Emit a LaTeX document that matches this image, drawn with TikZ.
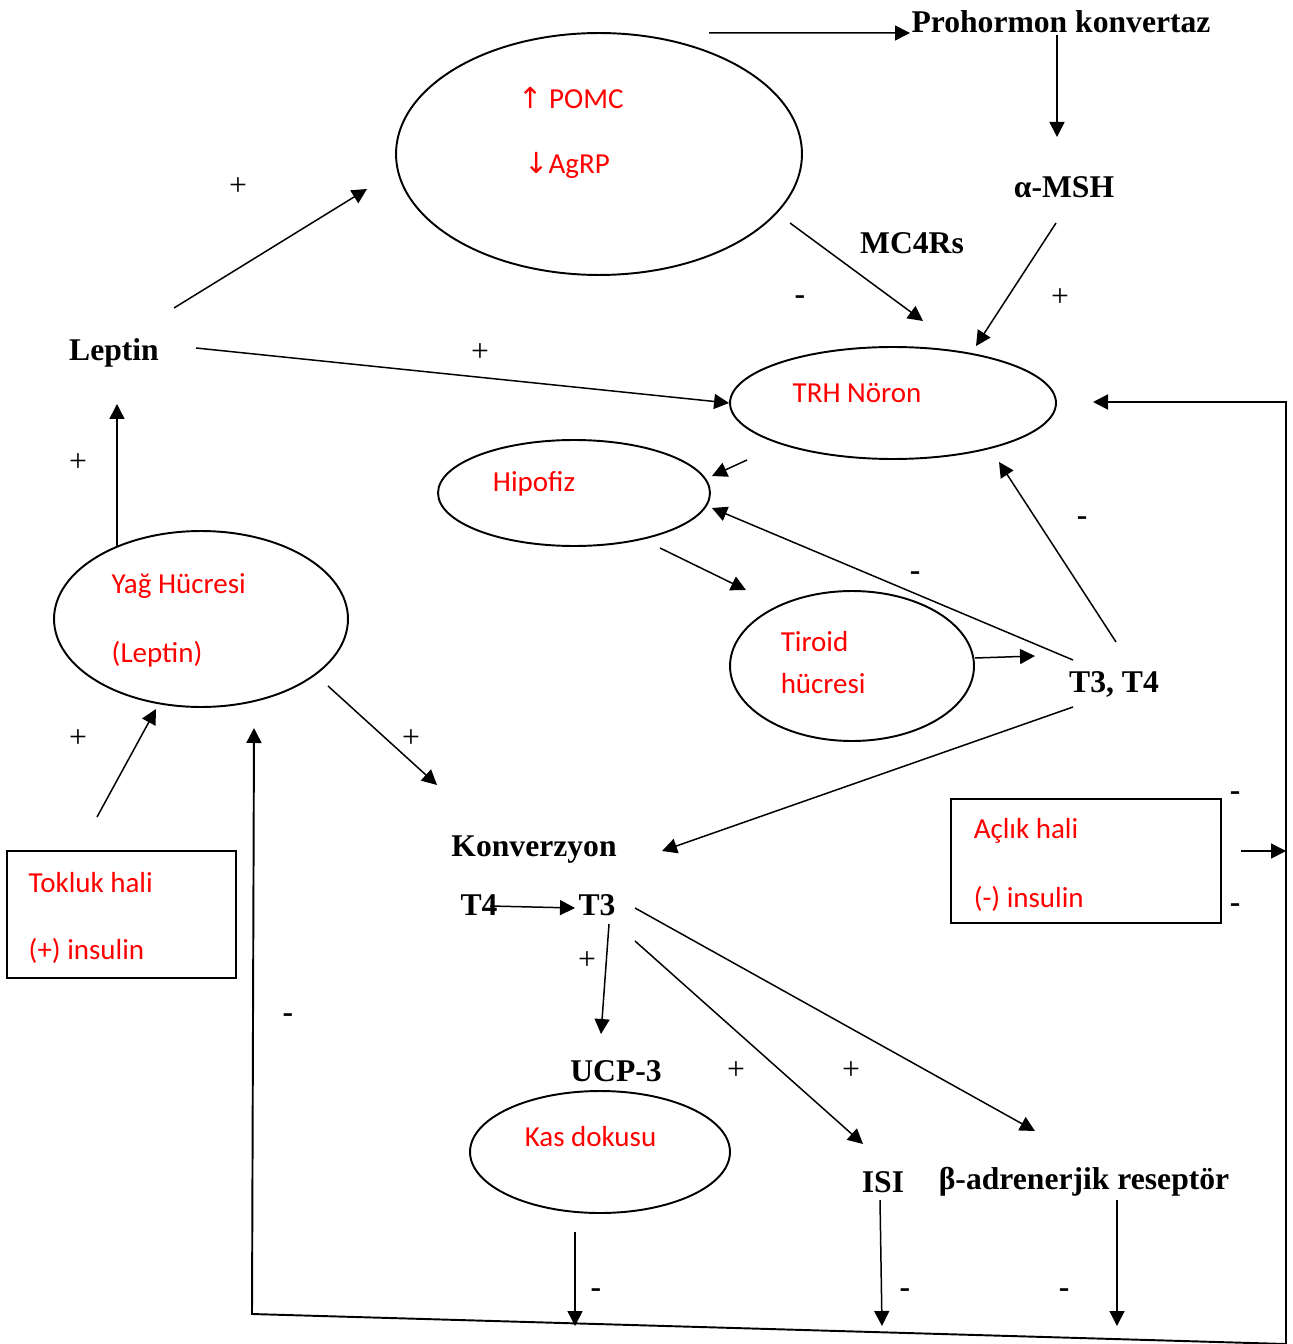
\documentclass[tikz,border=0pt]{standalone}
\usepackage{fontspec}
\setmainfont{Liberation Serif}
\newfontfamily\calibri{Carlito}
\newfontfamily\arrowfont{DejaVu Sans}
\usetikzlibrary{arrows.meta,shapes.geometric,calc}

\begin{document}
\begin{tikzpicture}[x=0.02cm,y=-0.02cm,>={Triangle[length=3.0mm,width=3.0mm]},line width=0.85pt,
  cell/.style={draw,ellipse,inner sep=0pt,line width=1.1pt},
  statebox/.style={draw,rectangle,inner sep=0pt,line width=1.1pt},
  lbl/.style={font=\bfseries\fontsize{18}{20}\selectfont,inner sep=0pt,yshift=-0.06cm},
  rtext/.style={text=red,font=\calibri\fontsize{16.5}{19}\selectfont,inner sep=0pt,yshift=-0.04cm},
  sgn/.style={font=\fontsize{18}{20}\selectfont,inner sep=0pt,yshift=-0.06cm}]
  \useasboundingbox (0,0) rectangle (1292,1344);

  % cells
  \node [cell,minimum width=8.12cm,minimum height=4.84cm] (pomc) at (599,154) {};
  \node [cell,minimum width=6.52cm,minimum height=2.24cm] (trh) at (893,403) {};
  \node [cell,minimum width=5.44cm,minimum height=2.12cm] (hipofiz) at (574,493) {};
  \node [cell,minimum width=4.88cm,minimum height=3.0cm] (tiroid) at (852,666) {};
  \node [cell,minimum width=5.88cm,minimum height=3.52cm] (yag) at (201,619) {};
  \node [cell,minimum width=5.2cm,minimum height=2.44cm] (kas) at (600,1152) {};
  \node [statebox,minimum width=4.58cm,minimum height=2.54cm] (tokluk) at (121.5,914.5) {};
  \node [statebox,minimum width=5.4cm,minimum height=2.48cm] (aclik) at (1086,861) {};

  % red texts
  \node [rtext] (pomcT) at (571,96) {{\arrowfont ↑} POMC};
  \node [rtext] (agrpT) at (567,163) {{\arrowfont ↓}AgRP};
  \node [rtext] (trhT) at (857,391) {TRH Nöron};
  \node [rtext] (hipT) at (534,482) {Hipofiz};
  \node [rtext,anchor=west] (tirT1) at (780,640) {Tiroid};
  \node [rtext,anchor=west] (tirT2) at (780,682) {hücresi};
  \node [rtext,anchor=west] (yagT1) at (111,584) {Yağ Hücresi};
  \node [rtext,anchor=west] (yagT2) at (111,652) {(Leptin)};
  \node [rtext,anchor=west] (kasT) at (524,1135) {Kas dokusu};
  \node [rtext,anchor=west] (tokT1) at (28,881) {Tokluk hali};
  \node [rtext,anchor=west] (tokT2) at (28,949) {(+) insulin};
  \node [rtext,anchor=west] (acT1) at (973,829) {Açlık hali};
  \node [rtext,anchor=west] (acT2) at (973,897) {(-) insulin};

  % bold labels
  \node [lbl] (prohormon) at (1061,19) {Prohormon konvertaz};
  \node [lbl] (msh) at (1064,184) {α-MSH};
  \node [lbl] (mcr) at (912,240) {MC4Rs};
  \node [lbl] (leptin) at (114,350) {Leptin};
  \node [lbl] (t3t4) at (1114,681) {T3, T4};
  \node [lbl] (konv) at (534,847) {Konverzyon};
  \node [lbl] (t4) at (479,902) {T4};
  \node [lbl] (t3) at (597,902) {T3};
  \node [lbl] (ucp) at (616,1068) {UCP-3};
  \node [lbl] (isi) at (883,1179) {ISI};
  \node [lbl] (beta) at (1084,1179) {β-adrenerjik reseptör};

  % signs
  \foreach \p [count=\i] in {(238,184),(480,350),(1060,295),(78,460),(78,736),(411,736),(587,958),(736,1068),(851,1068)}
    \node [sgn] (plus\i) at \p {+};
  \foreach \p [count=\i] in {(800,297),(915,573),(1082,518),(1235,793),(1235,905),(288,1015),(596,1290),(905,1290),(1064,1290)}
    \node [sgn] (minus\i) at \p {\bfseries -};

  % feedback frame
  \coordinate (fbTR) at (1286,402);
  \coordinate (fbBR) at (1286,1344);
  \coordinate (fbBL) at (252,1314);
  \coordinate (fbA) at (1286,851);

  \draw [->] ($(pomc)+(110,-121)$) -- ($(prohormon)+(-151,11)$);
  \draw [->] ($(prohormon)+(-4,13)$) -- ($(msh)+(-7,-50)$);
  \draw [->] ($(pomc)+(191,69)$) -- ($(trh)+(30,-82)$);
  \draw [->] ($(msh)+(-8,36)$) -- ($(trh)+(83,-57)$);
  \draw [->] ($(leptin)+(60,-45)$) -- ($(pomc)+(-232,35)$);
  \draw [->] ($(leptin)+(82,-5)$) -- (trh.west);
  \draw [->] ($(trh)+(-146,57)$) -- ($(hipofiz)+(138,-17)$);
  \draw [->] ($(t3t4)+(-41,-24)$) -- ($(hipofiz)+(138,15)$);
  \draw [->] ($(hipofiz)+(86,55)$) -- ($(tiroid)+(-106,-76)$);
  \draw [->] ($(tiroid)+(123,-8)$) -- ($(t3t4)+(-79,-28)$);
  \draw [->] ($(t3t4)+(2,-42)$) -- ($(trh)+(106,59)$);
  \draw [->] ($(t3t4)+(-41,23)$) -- ($(konv)+(128,1)$);
  \draw [->] ($(yag)+(-84,-73)$) -- ($(leptin)+(3,51)$);
  \draw [->] ($(tokluk)+(-24.5,-97.5)$) -- ($(yag)+(-45,90)$);
  \draw [->] ($(yag)+(127,67)$) -- ($(konv)+(-97,-65)$);
  \draw [->] ($(t4)+(11,1)$) -- ($(t3)+(-22,3)$);
  \draw [->] ($(t3)+(12,19)$) -- ($(ucp)+(-15,-37)$);
  \draw [->] ($(t3)+(38,36)$) -- ($(isi)+(-20,-38)$);
  \draw [->] ($(t3)+(38,3)$) -- ($(beta)+(-49,-51)$);
  \draw [->] ($(kas)+(-25,80)$) -- ($(kas)+(-25,174)$);
  \draw [->] ($(isi)+(-3,18)$) -- ($(isi)+(-1,144)$);
  \draw [->] ($(beta)+(33,18)$) -- ($(beta)+(33,144)$);
  \draw [->] ($(aclik.east)+(19,-10)$) -- (fbA);
  \draw [<->,line width=1.1pt] ($(trh)+(200,-1)$) -- (fbTR) -- (fbBR) -- (fbBL) -- ($(yag)+(53,109)$);
\end{tikzpicture}
\end{document}
